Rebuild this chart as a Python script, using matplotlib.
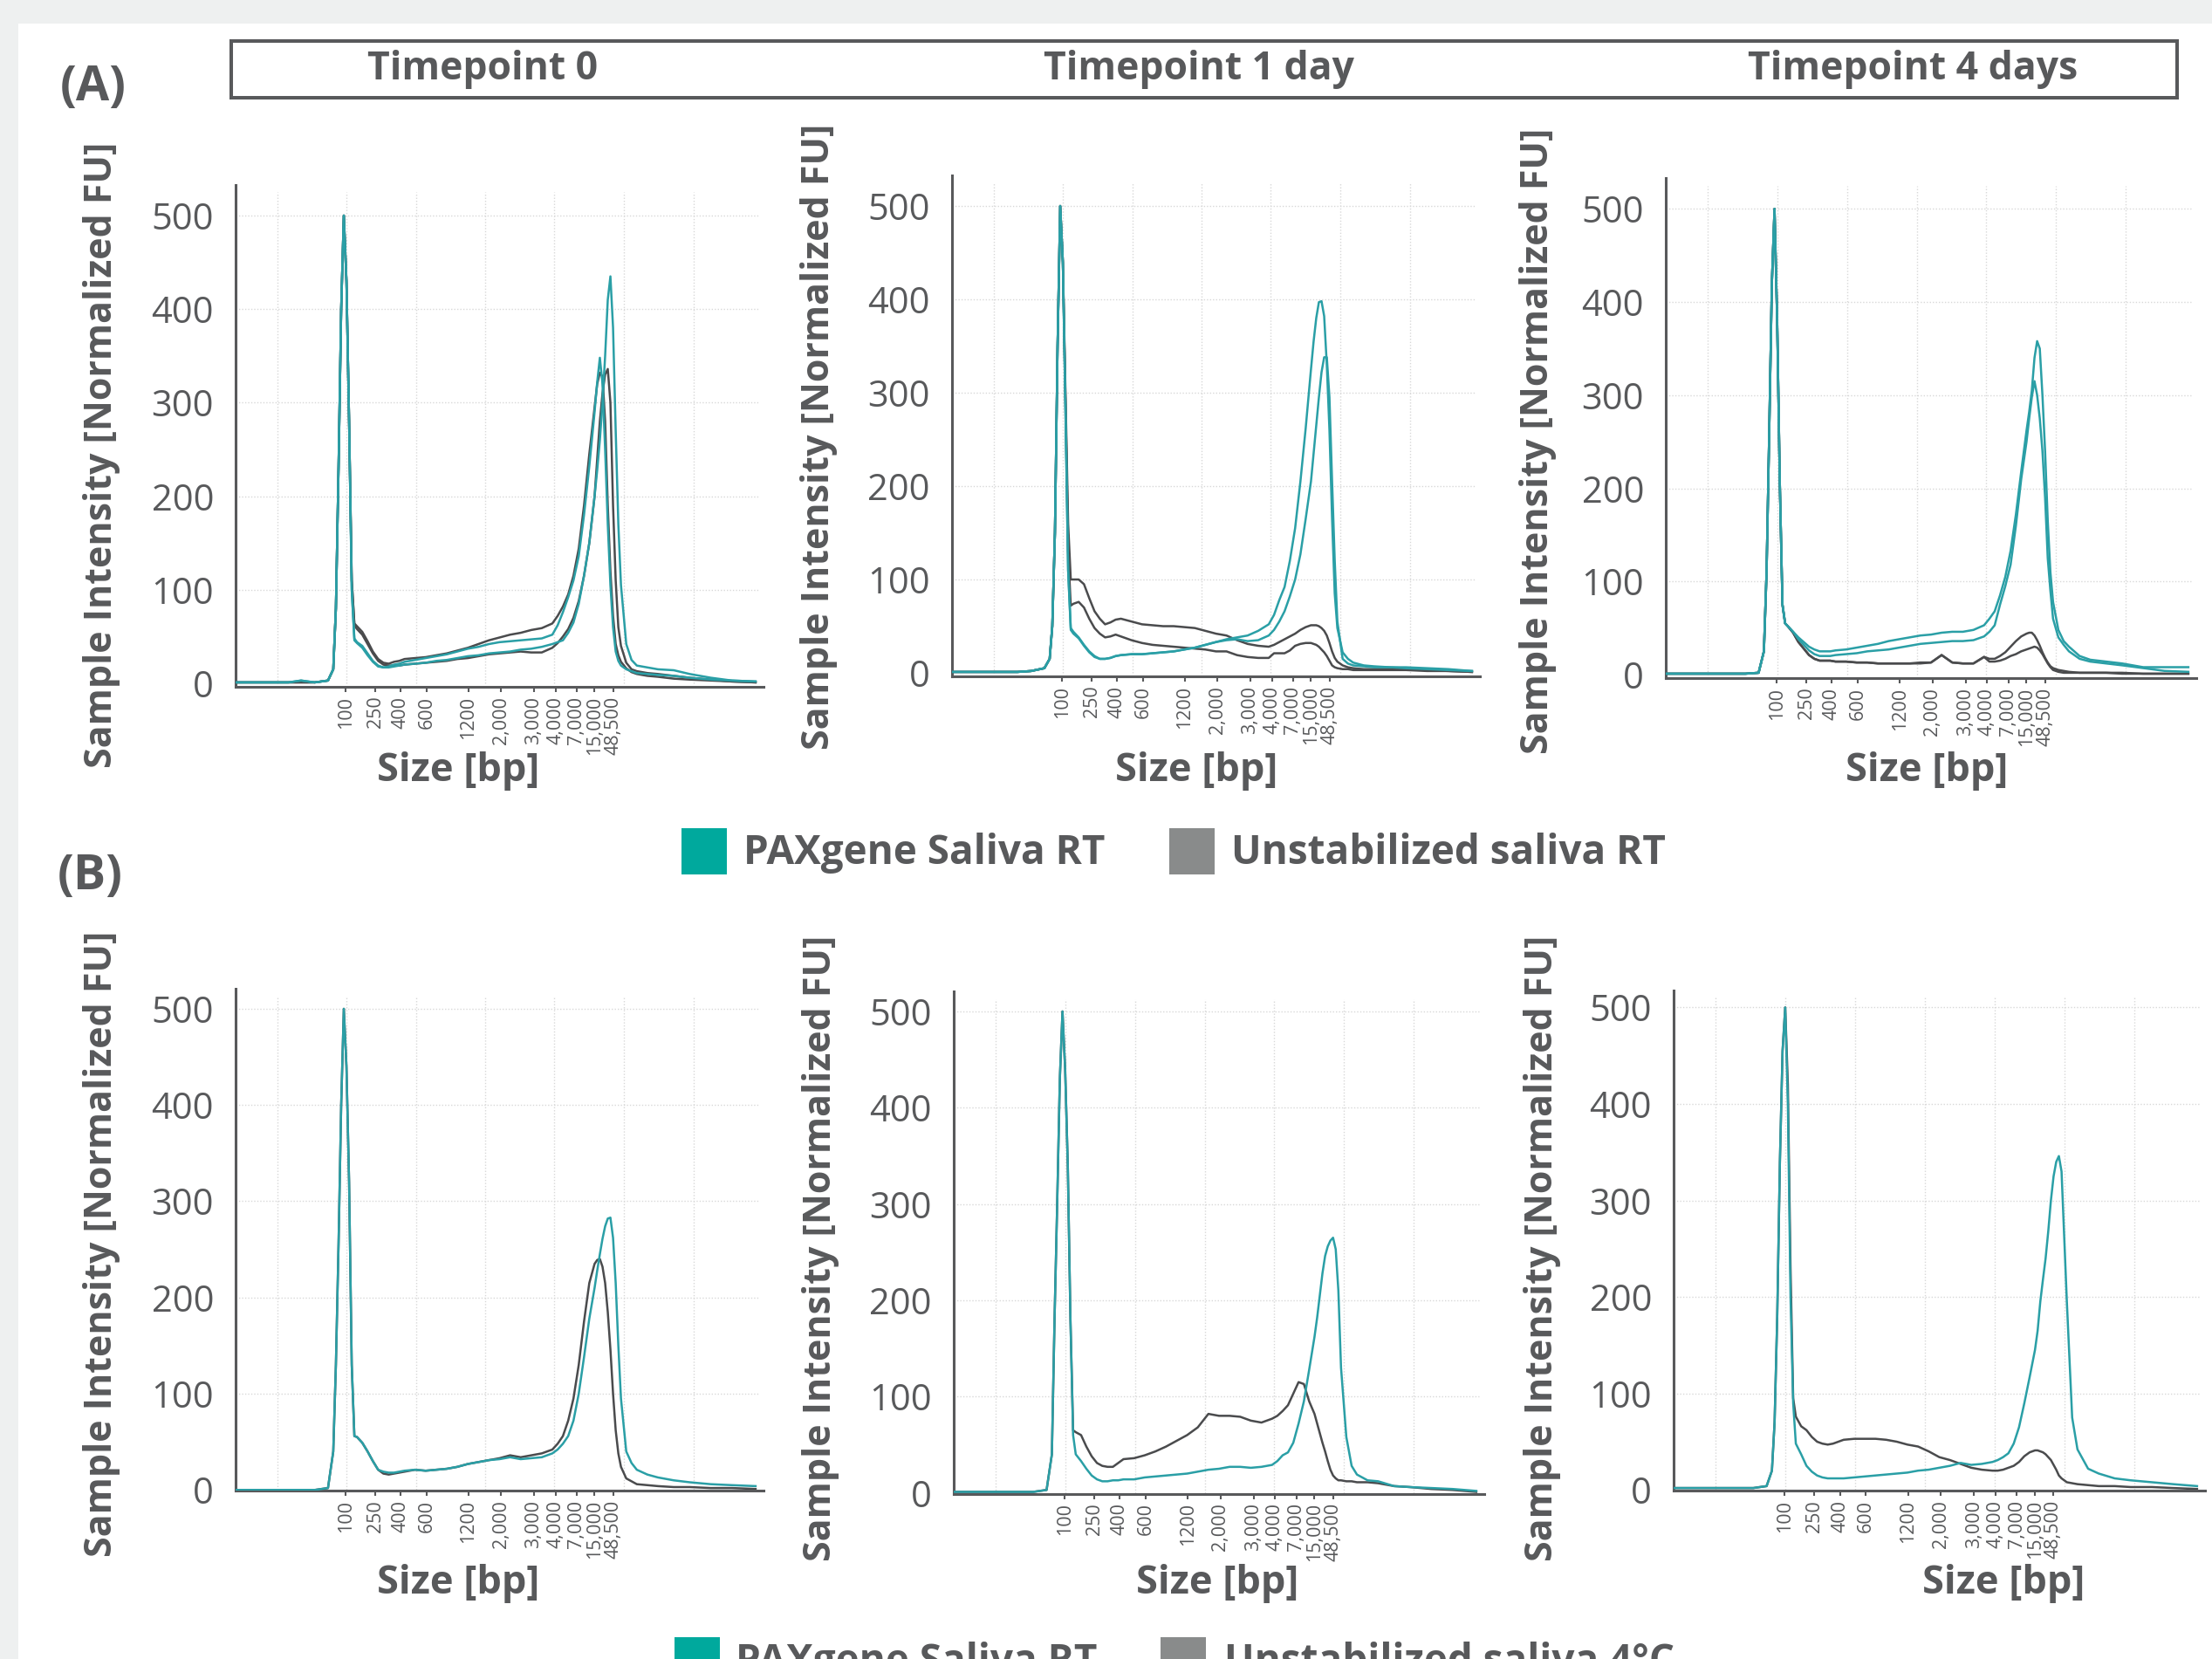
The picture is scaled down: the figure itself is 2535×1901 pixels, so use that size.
import matplotlib
matplotlib.use("Agg")
import matplotlib.pyplot as plt
from matplotlib.patches import Rectangle

plt.rcParams['font.family'] = ['Open Sans', 'DejaVu Sans']

W, H = 2535, 1901
TXT = '#58595b'
TEAL_LINE = '#2a9fa6'
GRAY_LINE = '#4a4b4d'
TEAL_BOX = '#00a99d'
GRAY_BOX = '#898b8b'

# migration position (0-100 across each panel) and the ladder sizes shown on it
SIZE_TICKS = [20.9, 26.5, 31.3, 36.2, 44.1, 50.3, 56.5, 60.6, 64.6, 68.0, 71.5]
SIZE_LABELS = ["100", "250", "400", "600", "1200", "2,000", "3,000", "4,000",
               "7,000", "15,000", "48,500"]
GRID_X = [7.9, 21.0, 34.2, 47.3, 60.4, 73.6, 86.7]
Y_TICKS = [0, 100, 200, 300, 400, 500]

X = [0, 10, 12.4, 15, 17.5, 18.5, 19, 19.5, 20, 20.5,
     21, 21.5, 22, 22.5, 23, 24, 25, 26, 27, 28,
     29, 30, 31, 32, 34, 36, 38, 40, 42, 44,
     46, 48, 50, 52, 54, 56, 58, 60, 61, 62,
     63, 64, 65, 66, 67, 68, 68.5, 69, 69.5, 70,
     70.5, 71, 71.5, 72, 72.5, 73, 74, 75, 76, 78,
     80, 83, 86, 90, 94, 98.5]

# (A) timepoint 0
A0_PAX_1 = [1, 1, 3, 1, 3, 15, 80, 230, 400, 500,
            430, 280, 100, 48, 44, 40, 32, 24, 19, 17,
            18, 20, 21, 23, 25, 27, 29, 31, 34, 37,
            39, 42, 44, 45, 46, 47, 48, 52, 62, 76,
            92, 110, 136, 180, 232, 290, 322, 348, 320, 250,
            170, 105, 60, 34, 24, 19, 15, 13, 11, 10,
            9, 8, 6, 4, 3, 2]
A0_PAX_2 = [1, 1, 3, 1, 3, 15, 80, 230, 400, 500,
            430, 280, 100, 46, 43, 38, 30, 23, 18, 17,
            17, 18, 19, 20, 21, 22, 24, 25, 27, 29,
            30, 32, 33, 34, 36, 37, 39, 42, 44, 46,
            54, 65, 85, 115, 150, 200, 228, 260, 300, 350,
            410, 435, 380, 270, 170, 105, 42, 25, 19, 17,
            15, 14, 10, 6, 3, 2]
A0_UNS_1 = [1, 1, 1, 1, 3, 15, 80, 230, 400, 500,
            430, 280, 110, 64, 61, 55, 45, 34, 26, 22,
            21, 23, 24, 26, 27, 28, 30, 32, 35, 38,
            42, 46, 49, 52, 54, 57, 59, 64, 72, 82,
            95, 115, 144, 190, 245, 295, 320, 332, 328, 280,
            190, 120, 72, 42, 30, 23, 16, 12, 10, 8,
            7, 5, 4, 3, 2, 1]
A0_UNS_2 = [1, 1, 1, 1, 3, 15, 80, 230, 400, 500,
            430, 280, 110, 62, 58, 52, 42, 32, 24, 20,
            19, 19, 19, 20, 21, 22, 23, 24, 26, 27,
            29, 31, 32, 33, 34, 33, 33, 38, 43, 50,
            58, 70, 88, 115, 150, 200, 240, 280, 310, 330,
            336, 300, 190, 110, 60, 40, 22, 15, 13, 11,
            10, 8, 6, 4, 2, 1]

# (A) timepoint 1 day
A1_PAX_1 = [1, 1, 1, 2, 5, 15, 50, 150, 350, 500,
            440, 280, 110, 48, 44, 38, 30, 23, 18, 15,
            15, 16, 18, 19, 20, 20, 21, 22, 23, 25,
            27, 30, 33, 36, 38, 40, 45, 52, 62, 78,
            92, 120, 155, 205, 262, 325, 355, 380, 397, 398,
            382, 330, 260, 165, 85, 48, 22, 15, 11, 8,
            7, 6, 6, 5, 4, 2]
A1_PAX_2 = [1, 1, 1, 2, 5, 15, 50, 150, 350, 500,
            440, 280, 110, 46, 42, 37, 29, 22, 17, 15,
            15, 16, 18, 19, 20, 20, 21, 22, 23, 25,
            27, 30, 33, 35, 36, 34, 35, 40, 46, 55,
            66, 82, 100, 127, 165, 205, 235, 265, 295, 322,
            338, 338, 295, 205, 120, 55, 15, 10, 8, 7,
            6, 6, 5, 4, 3, 2]
A1_UNS_1 = [1, 1, 1, 2, 5, 15, 50, 150, 350, 500,
            440, 300, 160, 100, 100, 100, 95, 80, 66, 58,
            52, 54, 57, 58, 55, 52, 51, 50, 50, 49,
            48, 45, 42, 40, 35, 31, 29, 28, 30, 33,
            36, 39, 42, 46, 49, 51, 51, 51, 50, 48,
            45, 40, 32, 23, 16, 12, 8, 6, 5, 4,
            4, 4, 4, 3, 2, 1]
A1_UNS_2 = [1, 1, 1, 2, 5, 15, 50, 150, 350, 500,
            440, 290, 130, 72, 74, 76, 70, 58, 48, 42,
            38, 39, 41, 39, 35, 32, 30, 29, 28, 27,
            26, 25, 23, 23, 19, 17, 16, 16, 21, 21,
            21, 24, 29, 31, 32, 32, 31, 30, 28, 25,
            22, 18, 13, 8, 6, 5, 4, 4, 3, 3,
            3, 3, 3, 2, 2, 1]

# (A) timepoint 4 days
A4_PAX_1 = [1, 1, 1, 1, 2, 25, 110, 260, 420, 500,
            380, 205, 75, 55, 52, 46, 40, 35, 30, 27,
            25, 25, 25, 26, 27, 29, 31, 33, 36, 38,
            40, 42, 43, 45, 46, 46, 48, 53, 60, 68,
            85, 105, 133, 172, 218, 262, 282, 305, 340, 358,
            350, 300, 240, 165, 110, 78, 48, 36, 30, 20,
            16, 14, 12, 8, 8, 8]
A4_PAX_2 = [1, 1, 1, 1, 2, 25, 110, 260, 420, 500,
            380, 205, 75, 55, 52, 46, 38, 32, 26, 22,
            20, 20, 20, 21, 22, 23, 25, 26, 27, 29,
            31, 33, 34, 35, 36, 36, 37, 41, 46, 53,
            75, 95, 118, 160, 210, 250, 275, 298, 315, 300,
            275, 240, 190, 125, 90, 60, 40, 32, 25, 17,
            14, 12, 10, 7, 4, 3]
A4_UNS_1 = [1, 1, 1, 1, 2, 25, 110, 260, 420, 500,
            380, 205, 75, 55, 52, 45, 35, 28, 21, 17,
            15, 15, 15, 14, 14, 13, 13, 12, 12, 12,
            12, 13, 13, 21, 13, 12, 12, 19, 17, 17,
            20, 24, 30, 36, 41, 44, 45, 45, 42, 37,
            31, 24, 18, 13, 9, 7, 5, 4, 3, 2,
            2, 2, 2, 1, 1, 1]
A4_UNS_2 = [1, 1, 1, 1, 2, 25, 110, 260, 420, 500,
            380, 205, 75, 55, 52, 45, 35, 28, 21, 17,
            15, 15, 15, 14, 14, 13, 13, 12, 12, 12,
            12, 12, 13, 21, 13, 12, 12, 19, 14, 14,
            15, 17, 20, 22, 25, 27, 28, 29, 30, 29,
            26, 22, 17, 12, 8, 5, 3, 2, 2, 2,
            2, 2, 1, 1, 1, 1]

# (B) timepoint 0
B0_PAX = [0, 0, 0, 0, 2, 40, 130, 255, 400, 500,
          440, 320, 130, 56, 55, 49, 40, 30, 21, 19,
          18, 18, 19, 20, 21, 20, 21, 22, 24, 27,
          29, 31, 32, 34, 32, 33, 34, 38, 42, 48,
          56, 72, 100, 138, 178, 210, 228, 245, 261, 274,
          282, 283, 262, 215, 150, 95, 40, 28, 21, 16,
          13, 10, 8, 6, 5, 4]
B0_UNS = [0, 0, 0, 0, 2, 40, 130, 255, 400, 500,
          440, 320, 130, 56, 55, 49, 40, 30, 21, 17,
          16, 17, 18, 19, 21, 20, 21, 22, 24, 27,
          29, 31, 33, 36, 34, 36, 38, 42, 48, 56,
          72, 95, 130, 175, 215, 235, 239, 240, 232, 215,
          185, 146, 100, 62, 38, 24, 12, 9, 6, 5,
          4, 3, 3, 2, 2, 1]

# (B) timepoint 1 day
B1_PAX = [1, 1, 1, 1, 3, 40, 180, 300, 430, 500,
          440, 340, 180, 60, 40, 33, 25, 18, 14, 12,
          12, 13, 13, 14, 14, 16, 17, 18, 19, 20,
          22, 24, 25, 27, 27, 26, 27, 29, 33, 39,
          42, 52, 72, 95, 128, 162, 182, 205, 228, 246,
          256, 262, 265, 253, 210, 130, 58, 28, 19, 13,
          12, 7, 6, 5, 4, 2]
B1_UNS = [1, 1, 1, 1, 3, 40, 180, 300, 430, 500,
          440, 340, 180, 65, 63, 60, 48, 38, 31, 28,
          27, 27, 31, 35, 36, 39, 43, 48, 54, 60,
          68, 82, 80, 80, 79, 75, 73, 77, 80, 85,
          91, 103, 115, 113, 95, 82, 72, 62, 52, 43,
          33, 24, 18, 15, 13, 13, 12, 12, 11, 11,
          10, 7, 6, 4, 3, 1]

# (B) timepoint 4 days
B4_PAX = [2, 2, 2, 2, 4, 20, 70, 180, 340, 455,
          500, 400, 200, 90, 48, 37, 25, 19, 15, 13,
          12, 12, 12, 12, 13, 14, 15, 16, 17, 18,
          20, 21, 23, 25, 28, 26, 27, 29, 31, 34,
          38, 48, 65, 90, 117, 145, 165, 195, 218, 240,
          268, 300, 325, 340, 346, 330, 195, 75, 42, 22,
          17, 12, 10, 8, 6, 4]
B4_UNS = [2, 2, 2, 2, 4, 20, 70, 180, 340, 455,
          500, 420, 230, 95, 76, 66, 62, 55, 50, 48,
          47, 48, 50, 52, 53, 53, 53, 52, 50, 47,
          45, 40, 34, 31, 27, 23, 21, 20, 20, 21,
          23, 25, 29, 35, 39, 41, 41, 40, 39, 37,
          34, 31, 26, 21, 15, 12, 8, 7, 6, 5,
          4, 4, 3, 3, 2, 1]

for s in [A0_PAX_1, A0_PAX_2, A0_UNS_1, A0_UNS_2, A1_PAX_1, A1_PAX_2, A1_UNS_1,
          A1_UNS_2, A4_PAX_1, A4_PAX_2, A4_UNS_1, A4_UNS_2, B0_PAX, B0_UNS,
          B1_PAX, B1_UNS, B4_PAX, B4_UNS]:
    assert len(s) == len(X), len(s)


def rect(left, right, top, bottom):
    # pixel box (from top-left) -> figure fraction
    return [left / W, 1 - bottom / H, (right - left) / W, (bottom - top) / H]


def fig_xy(px, py):
    return px / W, 1 - py / H


fig = plt.figure(figsize=(W / 100, H / 100), dpi=100)
fig.patch.set_facecolor('#eef0f0')
fig.add_artist(Rectangle((21 / W, 0), 1, 1 - 27 / H, transform=fig.transFigure,
                         facecolor='white', edgecolor='none', zorder=-10))

# panels: box in px, y-limits, stabilised curves, unstabilised curves, y/x label centres
panels = [
    ((270, 875, 211.6, 787.3), (-4, 533), [A0_PAX_1, A0_PAX_2], [A0_UNS_1, A0_UNS_2],
     (117, 521), (525, 883)),
    ((1091, 1696, 200.7, 775.3), (-4, 533), [A1_PAX_1, A1_PAX_2], [A1_UNS_1, A1_UNS_2],
     (938, 500), (1371, 883)),
    ((1909, 2517, 204.1, 777.3), (-4, 533), [A4_PAX_1, A4_PAX_2], [A4_UNS_1, A4_UNS_2],
     (1762, 505), (2208, 883)),
    ((270, 875, 1132.8, 1708.4), (-1, 521), [B0_PAX], [B0_UNS],
     (117, 1425), (525, 1814)),
    ((1093, 1701, 1135.8, 1711.7), (-1, 521), [B1_PAX], [B1_UNS],
     (941, 1430), (1395, 1814)),
    ((1918, 2527, 1134.5, 1708.4), (-1, 518), [B4_PAX], [B4_UNS],
     (1767, 1430), (2296, 1814)),
]

for box, ylim, pax, uns, ylab, xlab in panels:
    ax = fig.add_axes(rect(*box))
    ax.set_facecolor('none')
    ax.set_xlim(0, 100)
    ax.set_ylim(*ylim)
    ax.vlines(GRID_X, 0, ylim[1] - 8, colors='#d8d8d8', linewidth=1.0,
              linestyles=(0, (1, 1.5)), zorder=0)
    ax.hlines(Y_TICKS[1:], 0, 99, colors='#d8d8d8', linewidth=1.0,
              linestyles=(0, (1, 1.5)), zorder=0)
    for y in uns:
        ax.plot(X, y, color=GRAY_LINE, linewidth=1.8, zorder=2)
    for y in pax:
        ax.plot(X, y, color=TEAL_LINE, linewidth=1.8, zorder=3)

    for side in ['top', 'right']:
        ax.spines[side].set_visible(False)
    for side in ['left', 'bottom']:
        ax.spines[side].set_color(TXT)
        ax.spines[side].set_linewidth(2.2)

    ax.set_yticks(Y_TICKS)
    ax.tick_params(axis='y', length=0, pad=18, labelsize=30, labelcolor=TXT)
    ax.set_xticks(SIZE_TICKS)
    ax.set_xticklabels(SIZE_LABELS, rotation=90, fontsize=15.5, color=TXT)
    ax.tick_params(axis='x', length=4.5, width=1.5, color=TXT, pad=3)

    fig.text(*fig_xy(*ylab), "Sample Intensity [Normalized FU]", rotation=90,
             ha='center', va='center', fontsize=31, fontweight='bold', color=TXT)
    fig.text(*fig_xy(*xlab), "Size [bp]", ha='center', va='center',
             fontsize=32.5, fontweight='bold', color=TXT)

# header box with timepoints
fig.add_artist(Rectangle(fig_xy(265, 112), (2495 - 265) / W, 65 / H,
                         transform=fig.transFigure, fill=False,
                         edgecolor=TXT, linewidth=2.9))
for cx, label in [(553, "Timepoint 0"), (1374, "Timepoint 1 day"),
                  (2192, "Timepoint 4 days")]:
    fig.text(*fig_xy(cx, 80), label, ha='center', va='center', fontsize=32,
             fontweight='bold', color=TXT)

fig.text(*fig_xy(107, 100), "(A)", ha='center', va='center', fontsize=40,
         fontweight='bold', color=TXT)
fig.text(*fig_xy(103, 1004), "(B)", ha='center', va='center', fontsize=40,
         fontweight='bold', color=TXT)

# legends
legends = [
    (949, 990, [(781, 852, TEAL_BOX, "PAXgene Saliva RT"),
                (1340, 1411, GRAY_BOX, "Unstabilized saliva RT")]),
    (1876, 1917, [(773, 843, TEAL_BOX, "PAXgene Saliva RT"),
                  (1330, 1403, GRAY_BOX, "Unstabilized saliva 4°C")]),
]
for top, base, items in legends:
    for bx, tx, col, label in items:
        fig.add_artist(Rectangle(fig_xy(bx, top + 53), 52 / W, 53 / H,
                                 transform=fig.transFigure, facecolor=col,
                                 edgecolor='none'))
        fig.text(*fig_xy(tx, base), label, ha='left', va='baseline', fontsize=33,
                 fontweight='bold', color=TXT)

fig.savefig("out.png", dpi=100, facecolor=fig.get_facecolor())
